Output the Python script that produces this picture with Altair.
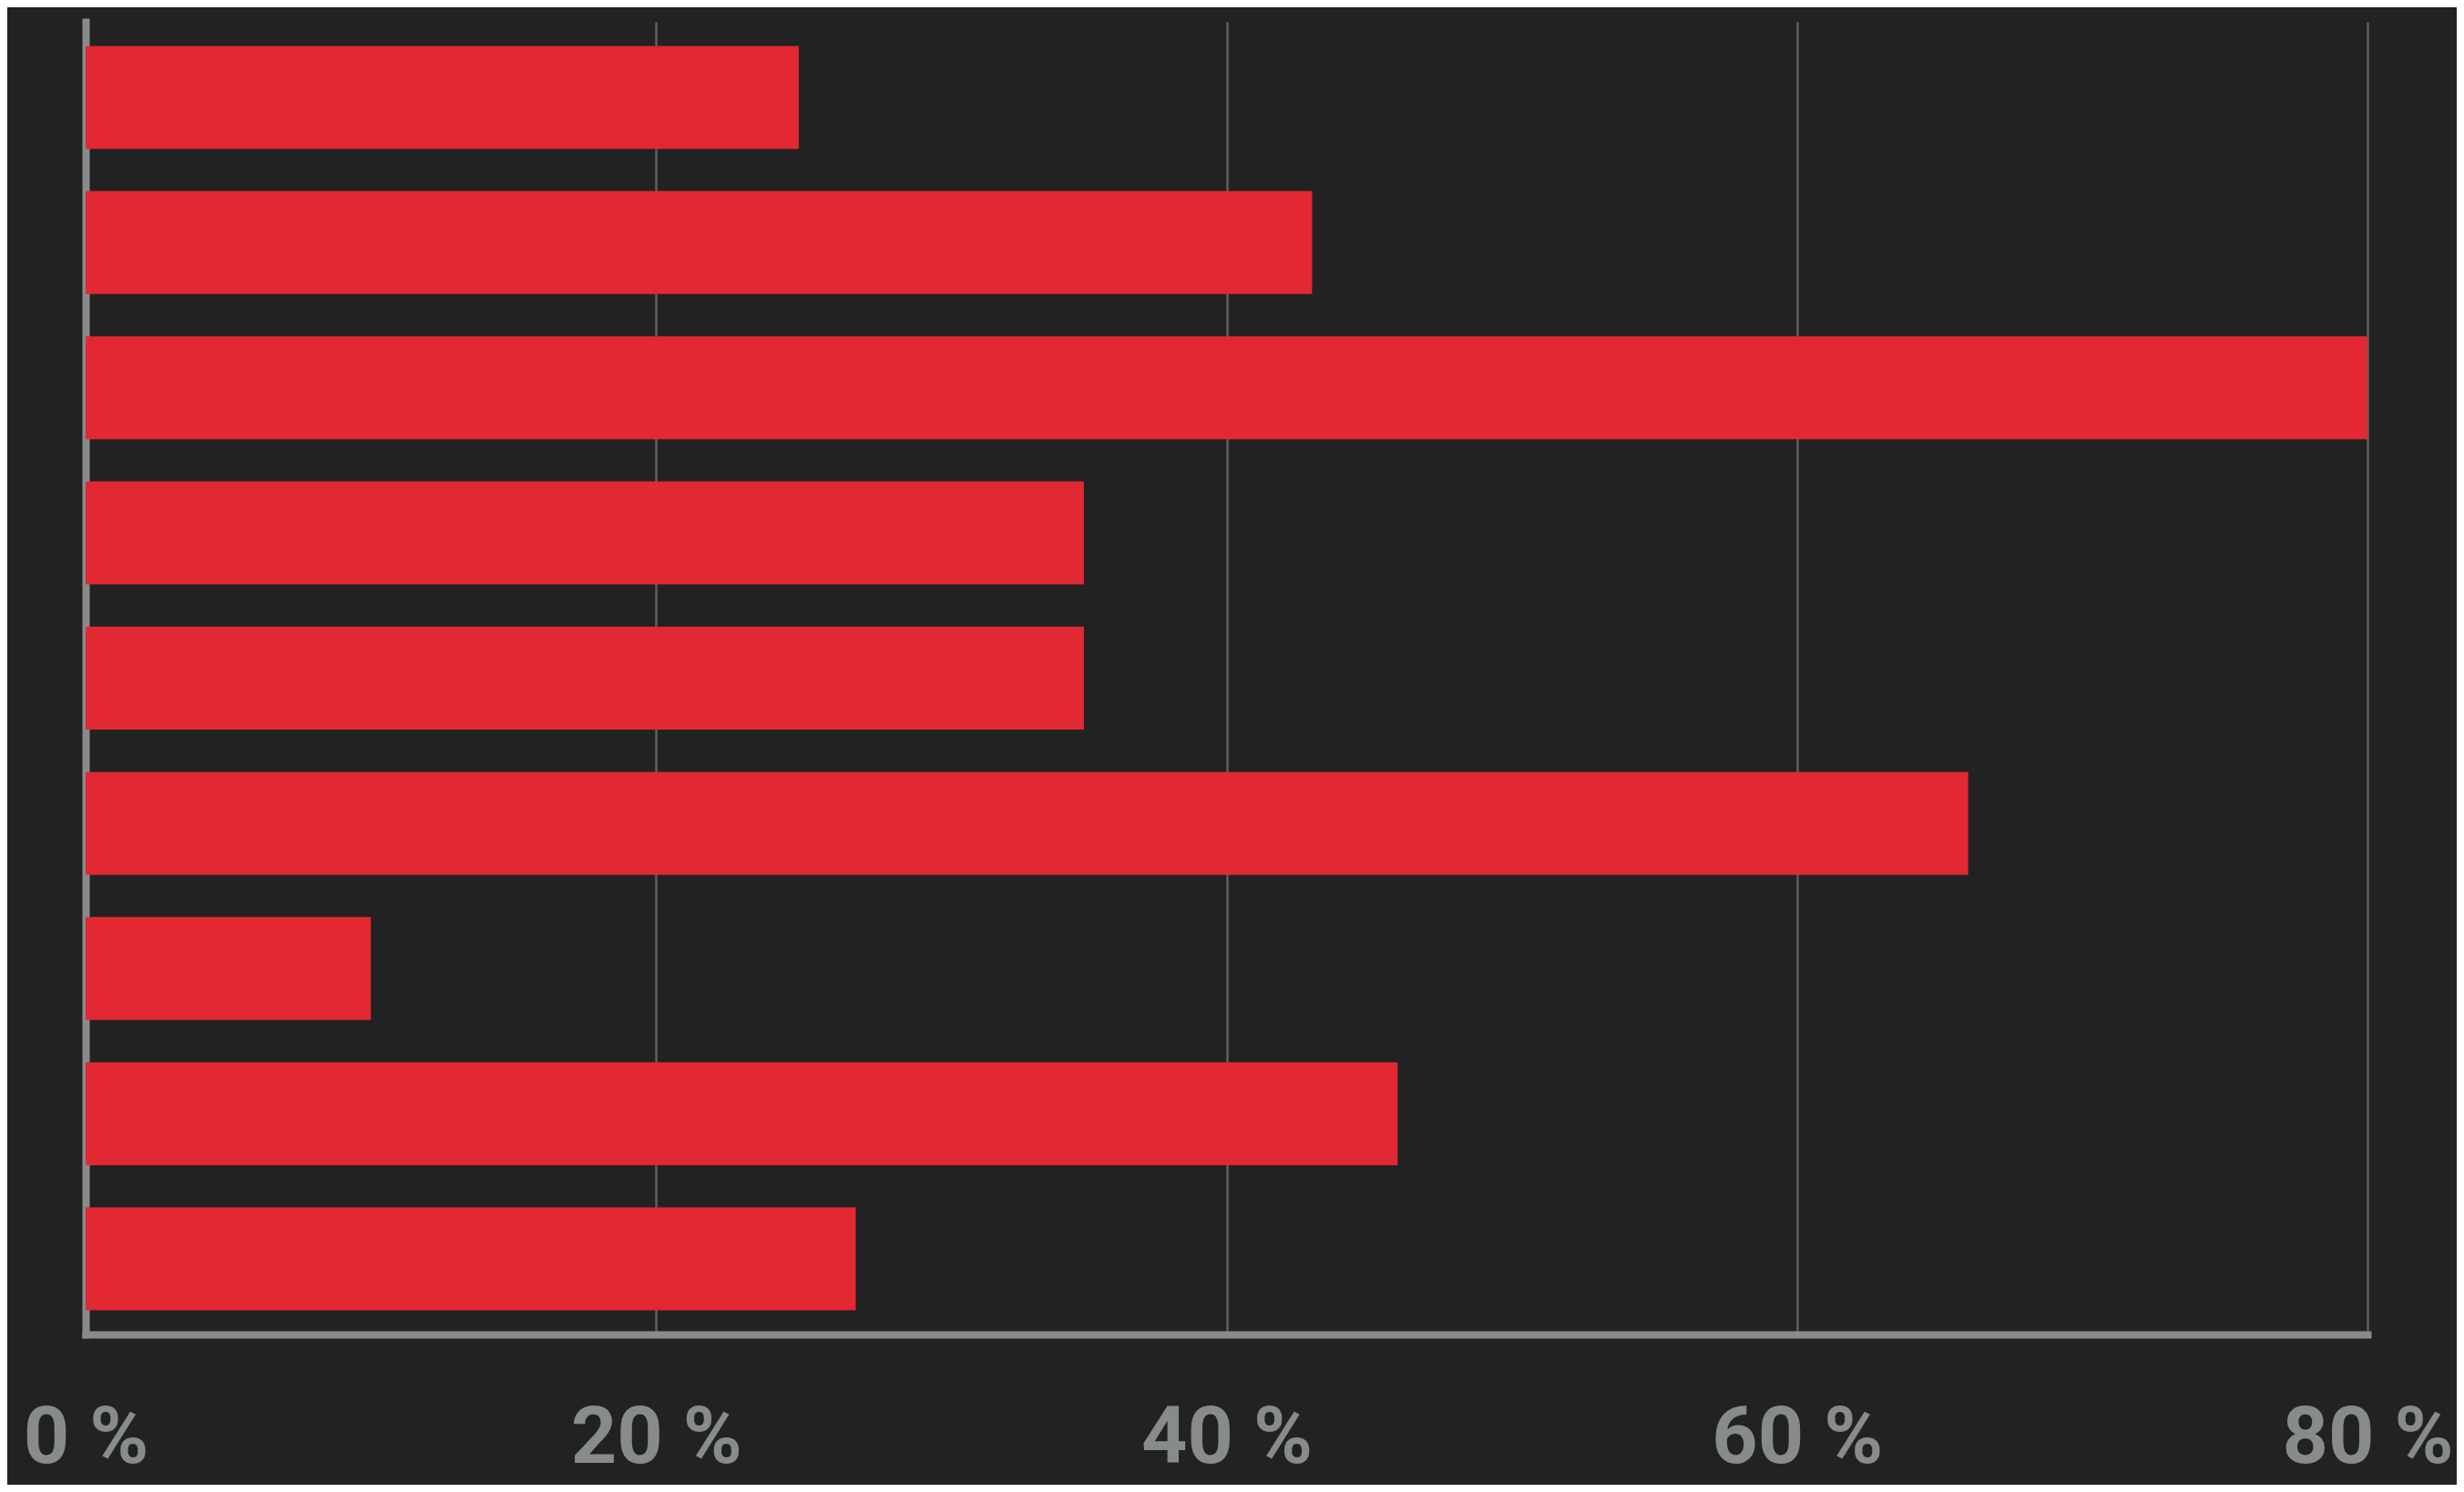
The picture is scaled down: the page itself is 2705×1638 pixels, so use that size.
import altair as alt
import pandas as pd

categories = ["Item 1", "Item 2", "Item 3", "Item 4", "Item 5",
              "Item 6", "Item 7", "Item 8", "Item 9"]
values = [25, 43, 80, 35, 35, 66, 10, 46, 27]
tick_values = [0, 20, 40, 60, 80]

df = pd.DataFrame({"category": categories, "value": values})

AXIS_GREY = "#878b8c"
GRID_GREY = "#5e5e5e"
BG = "#222222"
RED = "#e22832"

chart = (
    alt.Chart(df)
    .mark_bar(color=RED)
    .encode(
        x=alt.X(
            "value:Q",
            scale=alt.Scale(domain=[0, 80], nice=False, zero=True),
            axis=alt.Axis(
                values=tick_values,
                title=None,
                grid=True,
                gridColor=GRID_GREY,
                gridWidth=2.5,
                domain=True,
                domainColor=AXIS_GREY,
                domainWidth=8,
                domainCap="square",
                ticks=False,
                tickSize=0,
                labelExpr="datum.value + ' %'",
                labelFont="Roboto",
                labelFontWeight="bold",
                labelFontSize=88,
                labelColor=AXIS_GREY,
                labelBaseline="alphabetic",
                labelPadding=140,
                labelLimit=0,
                labelFlush=False,
                labelOverlap=False,
                zindex=0,
            ),
        ),
        y=alt.Y(
            "category:N",
            sort=categories,
            scale=alt.Scale(paddingInner=0.291, paddingOuter=0.166),
            axis=alt.Axis(
                title=None,
                labels=False,
                ticks=False,
                grid=False,
                domain=True,
                domainColor=AXIS_GREY,
                domainWidth=8,
                domainCap="square",
                zindex=0,
            ),
        ),
    )
    .properties(
        width=2505,
        height=1441,
        background=BG,
        padding={"left": 86, "top": 16, "right": 98, "bottom": 165},
        autosize=alt.AutoSizeParams(type="none"),
    )
    .configure_view(stroke=None)
)

chart.save("out.html", embed_options={"renderer": "svg", "actions": False})
